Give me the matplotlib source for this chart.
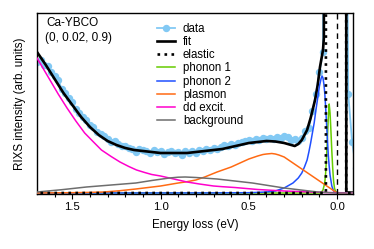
import matplotlib
matplotlib.use("Agg")
import matplotlib.pyplot as plt

plt.rcParams['font.family'] = ['Liberation Sans', 'DejaVu Sans']

# ---- data (energy loss in eV, intensity in arb. units) ----
data_E = [1.70, 1.68, 1.66, 1.64, 1.62, 1.60, 1.58, 1.56, 1.54, 1.52, 1.50, 1.48, 1.46, 1.44, 1.42,
          1.40, 1.38, 1.36, 1.34, 1.32, 1.30, 1.28, 1.26, 1.24, 1.22, 1.20, 1.18, 1.16, 1.14, 1.12,
          1.10, 1.08, 1.06, 1.04, 1.02, 1.00, 0.98, 0.96, 0.94, 0.92, 0.90, 0.88, 0.86, 0.84, 0.82,
          0.80, 0.78, 0.76, 0.74, 0.72, 0.70, 0.68, 0.66, 0.64, 0.62, 0.60, 0.58, 0.56, 0.54, 0.52,
          0.50, 0.48, 0.46, 0.44, 0.42, 0.40, 0.38, 0.36, 0.34, 0.32, 0.30, 0.28, 0.26, 0.24, 0.22,
          0.20, 0.18, 0.16, 0.14, 0.12, 0.10, 0.08, 0.06, 0.04, 0.02, 0.00, -0.02, -0.04, -0.063,
          -0.085, -0.107]
data_I = [131, 133, 128, 127, 121, 117, 113, 104, 100, 95, 91, 84, 80, 76, 73,
          68, 66, 61, 59, 57, 54, 51, 52, 49, 47, 47, 45, 44, 41, 44,
          43, 42, 40, 43, 41, 42, 39, 41, 42, 40, 41, 38, 42, 40, 42,
          40, 43, 42, 44, 43, 45, 44, 46, 48, 47, 49, 48, 50, 51, 52,
          53, 52, 54, 53, 55, 54, 55, 54, 56, 55, 57, 56, 53, 54, 52,
          55, 62, 65, 82, 99, 121, 141, 900, 1500, 1800, 1800, 1500, 700, 99,
          51, 25]

fit_E = [1.70, 1.65, 1.60, 1.55, 1.50, 1.45, 1.40, 1.35, 1.30, 1.25, 1.20, 1.15, 1.10, 1.05, 1.00,
         0.95, 0.90, 0.85, 0.80, 0.75, 0.70, 0.65, 0.60, 0.55, 0.50, 0.45, 0.40, 0.35, 0.30, 0.27,
         0.24, 0.22, 0.20, 0.17, 0.15, 0.125, 0.11, 0.097, 0.08, 0.075, 0.072, -0.050, -0.052,
         -0.07, -0.10]
fit_I = [141, 128, 114, 100, 88, 76, 66, 58, 52, 48, 45, 43, 42, 41, 40,
         40, 40, 40, 41, 42, 43, 44, 46, 48, 50, 51, 52, 51.5, 50, 48.5,
         47, 49, 53, 63, 75, 93, 108, 126, 143, 155, 2000, 2000, 0.5,
         0.4, 0.3]

elastic_E = [1.72, 0.0635, 0.063, 0.0, -0.051, -0.0515, -0.10]
elastic_I = [0, 0, 2000, 3000, 2000, 0, 0]

ph1_E = [1.72, 0.10, 0.09, 0.08, 0.07, 0.065, 0.06, 0.055, 0.05, 0.045, 0.04, 0.035, 0.03, 0.025,
         0.02, 0.015, 0.01, 0.0, -0.10]
ph1_I = [0, 0, 0.5, 3, 10, 20, 35, 55, 75, 89, 80, 62, 42, 25,
         12, 5, 2, 0, 0]

ph2_E = [1.72, 1.0, 0.70, 0.50, 0.45, 0.40, 0.35, 0.30, 0.25, 0.22, 0.20, 0.185, 0.17, 0.16, 0.15,
         0.14, 0.13, 0.12, 0.11, 0.10, 0.09, 0.085, 0.08, 0.075, 0.07, 0.065, 0.06, 0.055, 0.05,
         0.045, 0.04, 0.03, 0.02, 0.01, 0.0, -0.10]
ph2_I = [0, 0.05, 0.1, 0.3, 0.6, 1, 2, 5, 10, 15, 20, 26, 33, 41, 50,
         60, 70, 83, 95, 107, 115, 117, 115, 109, 100, 86, 70, 54, 38,
         27, 18, 7, 2, 0.5, 0, 0]

plas_E = [1.72, 1.50, 1.40, 1.32, 1.23, 1.14, 1.07, 1.00, 0.95, 0.90, 0.86, 0.80, 0.75, 0.68, 0.60,
          0.55, 0.50, 0.45, 0.42, 0.40, 0.37, 0.35, 0.33, 0.30, 0.25, 0.20, 0.15, 0.10, 0.05, 0.0, -0.10]
plas_I = [0, 0.3, 0.6, 1, 2.3, 4, 5.5, 7, 8.5, 10, 11, 13, 16, 21, 26,
          30, 34, 37, 38.5, 39, 39.5, 39, 38, 36, 30, 24, 18, 12, 6, 0, 0]

dd_E = [1.72, 1.70, 1.66, 1.62, 1.58, 1.53, 1.48, 1.43, 1.38, 1.335, 1.28, 1.23, 1.18, 1.136, 1.09,
        1.05, 1.00, 0.95, 0.90, 0.85, 0.78, 0.70, 0.65, 0.58, 0.45, 0.30, 0.15, 0.07, 0.0, -0.10]
dd_I = [138, 135, 123, 111, 99, 85, 72, 60, 51, 43, 36.5, 31, 26.5, 23, 20.5,
        18.5, 17, 15, 13, 11, 9, 7, 6.3, 5.5, 3.5, 2, 1, 0.5, 0.3, 0.2]

bg_E = [1.72, 1.70, 1.56, 1.42, 1.28, 1.14, 1.05, 0.95, 0.90, 0.86, 0.80, 0.68, 0.48, 0.30, 0.11,
        0.01, -0.10]
bg_I = [1, 1, 3.3, 6, 8, 10, 12.5, 15, 15.8, 16, 15.5, 14, 10, 5, 1,
        0, 0]

fig = plt.figure(figsize=(3.74, 2.49), dpi=100)
ax = fig.add_axes([37/374, 1-194/249, 316/374, 181/249])

ax.plot(data_E, data_I, '-o', color='#82c9f4', lw=1.3, ms=4.3, mec='#82c9f4', label='data', zorder=2)
ax.plot(fit_E, fit_I, '-', color='black', lw=1.9, label='fit', zorder=3)
ax.plot(elastic_E, elastic_I, ':', color='black', lw=1.9, label='elastic', zorder=6)
ax.plot(ph1_E, ph1_I, '-', color='#66cc00', lw=1.1, label='phonon 1', zorder=4)
ax.plot(ph2_E, ph2_I, '-', color='#1f4fff', lw=1.1, label='phonon 2', zorder=4)
ax.plot(plas_E, plas_I, '-', color='#ff6a13', lw=1.1, label='plasmon', zorder=4)
ax.plot(dd_E, dd_I, '-', color='#ff00cc', lw=1.1, label='dd excit.', zorder=4)
ax.plot(bg_E, bg_I, '-', color='#6e6e6e', lw=1.1, label='background', zorder=4)
ax.axvline(0.0, color='black', ls=(0, (4, 3)), lw=1.0, zorder=5)

ax.set_xlim(1.70, -0.09)
ax.set_ylim(-1, 180)
ax.set_yticks([])
ax.set_xticks([1.5, 1.0, 0.5, 0.0])
ax.set_xticks([1.6, 1.4, 1.3, 1.2, 1.1, 0.9, 0.8, 0.7, 0.6, 0.4, 0.3, 0.2, 0.1], minor=True)
ax.tick_params(axis='x', which='major', direction='out', length=3.5, width=0.8, labelsize=8.2, pad=2)
ax.tick_params(axis='x', which='minor', direction='out', length=2, width=0.8)
for s in ax.spines.values():
    s.set_linewidth(1.0)
ax.set_xlabel('Energy loss (eV)', fontsize=8.4, labelpad=5)
ax.set_ylabel('RIXS intensity (arb. units)', fontsize=8.4, labelpad=8)

ax.text(0.03, 0.945, 'Ca-YBCO', transform=ax.transAxes, fontsize=8.5, va='center', ha='left')
ax.text(0.025, 0.86, '(0, 0.02, 0.9)', transform=ax.transAxes, fontsize=8.5, va='center', ha='left')

ax.legend(loc='upper left', bbox_to_anchor=((157-37)/316, 1-(23-13)/181), frameon=False,
          fontsize=8.3, handlelength=1.6, handletextpad=0.65, labelspacing=0.1,
          borderpad=0, borderaxespad=0, numpoints=1)

fig.savefig('out.png', dpi=100)
